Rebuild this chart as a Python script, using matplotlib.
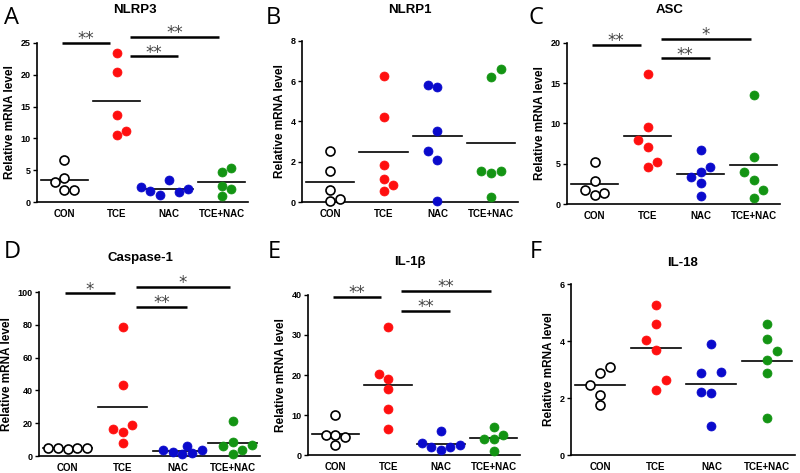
import numpy as np
import matplotlib
matplotlib.use("Agg")
from matplotlib import pyplot as plt

plt.rcParams['font.family'] = ['Liberation Sans', 'DejaVu Sans']

# --------- DATA ---------
groups = ["CON", "TCE", "NAC", "TCE+NAC"]
titles = ["NLRP3", "NLRP1", "ASC", "Caspase-1", "IL-1β", "IL-18"]
letters = ["A", "B", "C", "D", "E", "F"]
ymax = [25, 8, 20, 100, 40, 6]
ystep = [5, 2, 5, 20, 10, 2]

nlrp3 = [[6.6, 3.8, 3.2, 1.95, 1.95],
         [23.4, 20.4, 13.7, 10.6, 11.2],
         [2.4, 1.7, 1.05, 3.4, 1.5, 2.1],
         [4.75, 5.4, 2.5, 2.0, 0.95]]
nlrp1 = [[2.54, 1.55, 0.6, 0.07, 0.15],
         [6.25, 4.2, 1.82, 1.14, 0.86, 0.53],
         [5.8, 5.7, 3.55, 2.54, 2.1, 0.03],
         [6.22, 6.62, 1.52, 1.44, 1.55, 0.23]]
asc = [[5.24, 2.8, 1.73, 1.1, 1.36],
       [16.2, 9.6, 7.9, 7.05, 5.24, 4.58],
       [6.72, 4.54, 3.38, 3.92, 2.56, 0.99],
       [13.5, 5.9, 4.0, 3.0, 1.77, 0.78]]
casp1 = [[5.1, 4.6, 4.4, 4.6, 5.0],
         [78.9, 43.3, 16.5, 14.6, 18.9, 7.7],
         [3.5, 2.4, 1.0, 6.1, 2.0, 3.5],
         [21.5, 6.1, 8.7, 3.6, 6.7, 1.2]]
il1b = [[10.0, 4.9, 4.9, 4.6, 2.4],
        [32.1, 20.2, 18.9, 16.4, 11.4, 6.4],
        [2.9, 2.0, 6.0, 1.2, 2.0, 2.4],
        [4.1, 6.9, 4.1, 5.1, 0.9]]
il18 = [[2.44, 2.86, 3.09, 2.1, 1.75],
        [5.28, 4.6, 4.04, 3.68, 2.63, 2.29],
        [3.88, 2.87, 2.91, 2.2, 2.17, 1.01],
        [4.6, 4.06, 3.65, 3.32, 2.87, 1.31]]

# significance labels: (from group, to group, label, bracket height)
sig_nlrp3 = [(0, 1, "**", 25.0), (1, 2, "**", 22.9), (1, 3, "**", 26.0)]
sig_asc = [(0, 1, "**", 19.8), (1, 2, "**", 18.1), (1, 3, "*", 20.5)]
sig_casp1 = [(0, 1, "*", 99.2), (1, 2, "**", 91.0), (1, 3, "*", 103.0)]
sig_il1b = [(0, 1, "**", 39.5), (1, 2, "**", 36.1), (1, 3, "**", 41.1)]

all_data = [nlrp3, nlrp1, asc, casp1, il1b, il18]
all_sig = [sig_nlrp3, [], sig_asc, sig_casp1, sig_il1b, []]

# --------- LAYOUT (pixel boxes, swarm offsets in dot widths) ---------
W, H = 800, 473
boxes = [(37, 43, 248, 202), (302, 41, 518, 202), (567, 43, 780, 204),
         (39, 292, 260, 456), (308, 295, 520, 455), (571, 284, 795, 455)]
title_pos = [(135, 10), (410, 10), (670, 10), (140, 258), (410, 262), (683, 263)]
letter_pos = [(4, 6), (266, 6), (529, 6), (4, 240), (268, 240), (530, 240)]

swarm = [
    [[0, 0, -1, 0, 1], [0, 0, 0, 0, 1], [-3, -2, -1, 0, 1, 2], [0, 1, 0, 1, 0]],
    [[0, 0, 0, 0, 1], [0, 0, 0, 0, 1, 0], [-1, 0, 0, -1, 0, 0], [0, 1, -1, 0, 1, 0]],
    [[0, 0, -1, 0, 1], [0, 0, -1, 0, 1, 0], [0, 1, -1, 0, 0, 0], [0, 0, -1, 0, 1, 0]],
    [[-2, -1, 0, 1, 2], [0, 0, -1, 0, 1, 0], [-1.5, -0.5, 0.5, 1, 1.5, 2.5], [0, -1, 0, 1, 2, 0]],
    [[0, -1, 0, 1, 0], [0, -1, 0, 0, 0, 0], [-2, -1, 0, 0, 1, 2], [-1, 0, 0, 1, 0]],
    [[-1, 0, 1, 0, 0], [0, 0, -1, 0, 1, 0], [0, -1, 1, -1, 0, 0], [0, 0, 1, 0, 0, 0]],
]
DOT = 0.18
bracket_x = [(-0.05, 0.87), (1.25, 2.17), (1.25, 2.95)]

colors = ["white", "#ff0f0f", "#0a0acc", "#139413"]
edges = ["black", "#ff0f0f", "#0a0acc", "#139413"]

fig = plt.figure(figsize=(W / 100, H / 100), dpi=100)

for p in range(6):
    x0, y0, x1, y1 = boxes[p]
    ax = fig.add_axes([x0 / W, 1 - y1 / H, (x1 - x0) / W, (y1 - y0) / H])
    data = all_data[p]
    for g in range(4):
        vals = np.array(data[g])
        xs = g + np.array(swarm[p][g]) * DOT
        ax.scatter(xs, vals, s=42, facecolor=colors[g], edgecolor=edges[g],
                   linewidth=1.2 if g == 0 else 0.5, zorder=3, clip_on=False)
        m = vals.mean()
        ax.plot([g - 0.45, g + 0.45], [m, m], color="black", lw=1.2, zorder=2)

    # significance brackets
    for (a, b, lab, yb) in all_sig[p]:
        xa = bracket_x[0] if a == 0 else (bracket_x[1] if b == 2 else bracket_x[2])
        ax.plot(xa, [yb, yb], color="black", lw=1.8, clip_on=False, solid_capstyle="butt")
        ax.annotate(lab, ((xa[0] + xa[1]) / 2, yb), xytext=(0, -1),
                    textcoords="offset points", ha="center", va="baseline",
                    fontsize=12, color="#444444", family="DejaVu Sans",
                    annotation_clip=False)

    ax.set_xlim(-0.52, 3.5)
    ax.set_ylim(0, ymax[p])
    ax.set_yticks(np.arange(0, ymax[p] + 0.01, ystep[p]))
    ax.set_xticks(range(4))
    ax.set_xticklabels(groups, fontsize=7, fontweight="bold")
    ax.tick_params(axis="x", length=0, pad=5)
    ax.tick_params(axis="y", length=3, width=1, labelsize=6.5, pad=1.5)
    for lab in ax.get_yticklabels():
        lab.set_fontweight("bold")
    ax.spines["top"].set_visible(False)
    ax.spines["right"].set_visible(False)
    ax.spines["left"].set_linewidth(1.2)
    ax.spines["bottom"].set_linewidth(1.2)
    ax.set_ylabel("Relative mRNA level", fontsize=8.5, fontweight="bold", labelpad=3)
    ax.patch.set_visible(False)

    tx, ty = title_pos[p]
    fig.text(tx / W, 1 - ty / H, titles[p], ha="center", va="center",
             fontsize=9.5, fontweight="bold")
    lx, ly = letter_pos[p]
    fig.text(lx / W, 1 - ly / H, letters[p], ha="left", va="top", fontsize=17,
             family="Open Sans")

fig.savefig("out.png", dpi=100)
